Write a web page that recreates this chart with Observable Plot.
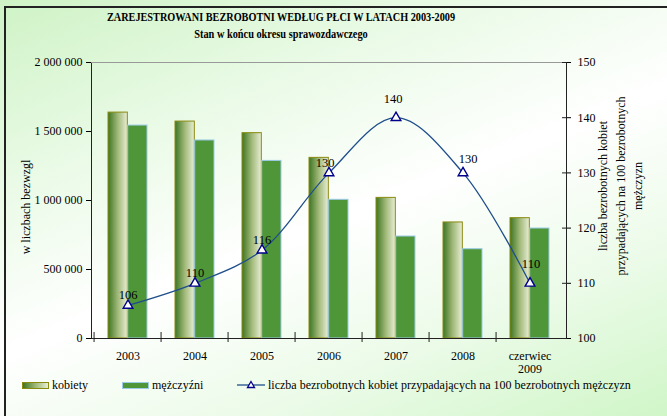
<!DOCTYPE html>
<html><head><meta charset="utf-8">
<script src="https://cdn.jsdelivr.net/npm/d3@7"></script>
<script src="https://cdn.jsdelivr.net/npm/@observablehq/plot@0.6"></script>
<style>
body{margin:0;}
#wrap{position:relative;width:667px;height:416px;overflow:hidden;
 background:linear-gradient(158deg,#cff3c6 0%,#ecfbe9 30%,#ffffff 52%,#ecfbe9 75%,#d0f6c8 100%);
 font-family:"Liberation Serif","Times New Roman",serif;color:#000;}
#border{position:absolute;left:4px;top:6px;width:720px;height:460px;border-left:2px solid #222;border-top:2px solid #222;}
#chart{position:absolute;left:0;top:0;}
.t{position:absolute;white-space:nowrap;}
#title{left:281px;top:10px;font-size:12.5px;font-weight:bold;transform:translateX(-50%) scaleX(0.82);}
#sub{left:281px;top:27px;font-size:12px;font-weight:bold;transform:translateX(-50%) scaleX(0.86);}
#ylab{left:26px;top:207px;font-size:12px;transform:translate(-50%,-50%) rotate(-90deg);}
#y2lab{left:621px;top:186px;font-size:12px;line-height:17.5px;text-align:center;transform:translate(-50%,-50%) rotate(-90deg);}
.sw{position:absolute;box-sizing:border-box;}
.lg{position:absolute;font-size:12px;white-space:nowrap;top:378px;}
</style></head>
<body>
<div id="wrap">
 <div id="border"></div>
 <div id="chart"></div>
 <div class="t" id="title">ZAREJESTROWANI BEZROBOTNI WEDŁUG PŁCI W LATACH 2003-2009</div>
 <div class="t" id="sub">Stan w końcu okresu sprawozdawczego</div>
 <div class="t" id="ylab">w liczbach bezwzgl</div>
 <div class="t" id="y2lab">liczba bezrobotnych kobiet<br>przypadających na 100 bezrobotnych<br>mężczyzn</div>
 <div class="sw" style="left:22px;top:382px;width:27px;height:7px;border:1px solid #8a8a10;background:linear-gradient(90deg,#3d7522,#a0b878,#e8eed6);"></div>
 <div class="lg" style="left:52px;">kobiety</div>
 <div class="sw" style="left:122px;top:382px;width:27px;height:7px;border:1px solid #9ccbe8;background:#4f9639;"></div>
 <div class="lg" style="left:152px;">mężczyźni</div>
 <svg style="position:absolute;left:237px;top:379px;" width="30" height="12"><line x1="0" y1="6" x2="28" y2="6" stroke="#1f4e8c" stroke-width="1.3"/><path d="M14,2.5 L17.5,8.5 L10.5,8.5 Z" fill="white" stroke="#00008b" stroke-width="1.3"/></svg>
 <div class="lg" style="left:268px;">liczba bezrobotnych kobiet przypadających na 100 bezrobotnych mężczyzn</div>
</div>
<script>
const years = ["2003","2004","2005","2006","2007","2008","czerwiec\n2009"];
const kobiety = [1637000,1572000,1488000,1309000,1019000,841000,872000];
const mezczyzni = [1543000,1435000,1287000,1005000,739000,647000,797000];
const ratio = [106,110,116,130,140,130,110];
const leftTicks = [0,500000,1000000,1500000,2000000];
const rightTicks = [100,110,120,130,140,150];

const toY = v => (v - 100) * 40000;
const rows = years.map((year,i)=>({year, k:kobiety[i], m:mezczyzni[i], r:ratio[i], ry:toY(ratio[i])}));

const W=667,H=416,mL=91,mR=101,mT=62,mB=78;
const step=(W-mL-mR)/years.length;
const half=step*(1-0.42)/2;
const fmt = d => d3.format(",")(d).replace(/,/g," ");
const lbl = {x:"year",y:"ry",text:d=>String(d.r),fontSize:12.5,fill:"#000"};

const chart = Plot.plot({
  width:W,height:H,marginLeft:mL,marginRight:mR,marginTop:mT,marginBottom:mB,
  style:{background:"transparent",fontFamily:"Liberation Serif, serif",fontSize:"12px",color:"#000",overflow:"visible"},
  x:{type:"band",domain:years,paddingInner:0.42,paddingOuter:0.21,axis:null},
  y:{domain:[0,2000000]},
  marks:[
    Plot.barY(rows,{x:"year",y:"k",fill:"url(#gradK)",stroke:"#8a8a10",strokeWidth:1,insetRight:half}),
    Plot.barY(rows,{x:"year",y:"m",fill:"#4f9639",stroke:"#9ccbe8",strokeWidth:1,insetLeft:half}),
    Plot.frame({stroke:"#222"}),
    Plot.ruleY([2000000],{stroke:"#999"}),
    Plot.ruleX(years,{x:d=>d,dx:-step/2,y1:-29000,y2:43500,stroke:"#222"}),
    Plot.ruleY(rightTicks.map(toY),{y:d=>d,insetLeft:W-mL-mR-4,stroke:"#222"}),
    Plot.axisY({anchor:"left",ticks:leftTicks,tickSize:5,tickPadding:4,tickFormat:fmt,label:null}),
    Plot.axisY({anchor:"right",ticks:rightTicks.map(toY),tickSize:4,tickPadding:7,tickFormat:d=>String(Math.round(100+d/40000)),label:null}),
    Plot.text(years,{x:d=>d,frameAnchor:"bottom",lineAnchor:"top",dy:13,lineHeight:1.05,fontSize:12,fill:"#000"}),
    Plot.line(rows,{x:"year",y:"ry",stroke:"#1f4e8c",strokeWidth:1.3,curve:"catmull-rom"}),
    Plot.dot(rows,{x:"year",y:"ry",symbol:"triangle",r:3.6,fill:"white",stroke:"#00008b",strokeWidth:1.4}),
    Plot.text(rows,{...lbl,filter:(d,i)=>i<3,dy:-10}),
    Plot.text(rows,{...lbl,filter:(d,i)=>i===3,dy:-10,dx:-4}),
    Plot.text(rows,{...lbl,filter:(d,i)=>i===4,dy:-19,dx:-3}),
    Plot.text(rows,{...lbl,filter:(d,i)=>i===5,dy:-14,dx:5}),
    Plot.text(rows,{...lbl,filter:(d,i)=>i===6,dy:-19,dx:1})
  ]
});
const svg = chart.tagName.toLowerCase()==="svg"?chart:chart.querySelector("svg");
const defs=document.createElementNS("http://www.w3.org/2000/svg","defs");
defs.innerHTML='<linearGradient id="gradK" x1="0" x2="1" y1="0" y2="0"><stop offset="0" stop-color="#3d7522"/><stop offset="0.5" stop-color="#a0b878"/><stop offset="1" stop-color="#e8eed6"/></linearGradient>';
svg.prepend(defs);
document.getElementById("chart").appendChild(chart);
</script>
</body></html>
